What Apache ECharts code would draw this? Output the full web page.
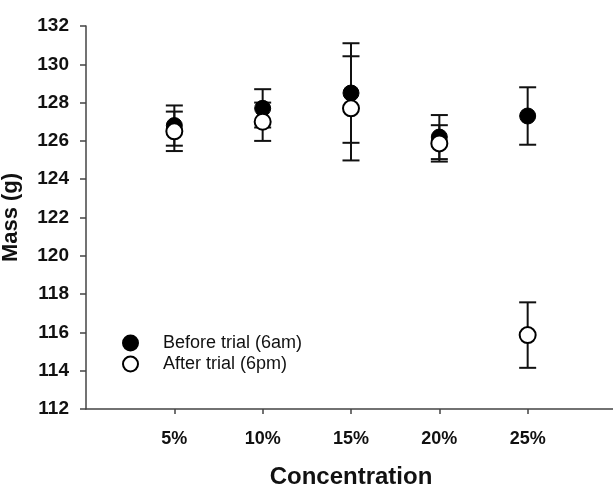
<!DOCTYPE html>
<html>
<head>
<meta charset="utf-8">
<script src="https://cdn.jsdelivr.net/npm/echarts@6/dist/echarts.min.js"></script>
<style>
  html, body { margin: 0; padding: 0; background: #fff; }
  #chart { width: 613px; height: 502px; }
</style>
</head>
<body>
<div id="chart"></div>
<script>
  // values
  const categories = ['5%', '10%', '15%', '20%', '25%'];
  const beforeMean = [126.8, 127.7, 128.5, 126.2, 127.3];
  const beforeErr = [1.05, 1.0, 2.6, 1.15, 1.5];
  const afterMean = [126.5, 127.0, 127.7, 125.87, 115.86];
  const afterErr = [1.03, 1.0, 2.72, 0.95, 1.71];
  const yTicks = [112, 114, 116, 118, 120, 122, 124, 126, 128, 130, 132];

  const font = '"Liberation Sans", Arial, sans-serif';
  const chart = echarts.init(document.getElementById('chart'));

  function errData(mean, err) {
    return mean.map((m, i) => [i + 1, m - err[i], m + err[i]]);
  }

  function errRender(params, api) {
    const x = api.value(0);
    const lo = api.coord([x, api.value(1)]);
    const hi = api.coord([x, api.value(2)]);
    const w = 8.5;
    const style = { stroke: '#111', lineWidth: 2 };
    return {
      type: 'group',
      children: [
        { type: 'line', shape: { x1: lo[0], y1: lo[1], x2: hi[0], y2: hi[1] }, style },
        { type: 'line', shape: { x1: lo[0] - w, y1: lo[1], x2: lo[0] + w, y2: lo[1] }, style },
        { type: 'line', shape: { x1: hi[0] - w, y1: hi[1], x2: hi[0] + w, y2: hi[1] }, style }
      ]
    };
  }

  chart.setOption({
    animation: false,
    backgroundColor: '#fff',
    grid: { left: 86, right: -3, top: 26, bottom: 93, outerBoundsMode: 'none', containLabel: false },
    legend: {
      orient: 'vertical',
      left: 122,
      top: 334,
      padding: 0,
      itemWidth: 15,
      itemHeight: 15,
      itemGap: 3,
      data: ['Before trial (6am)', 'After trial (6pm)'],
      textStyle: { fontFamily: font, fontSize: 18, color: '#111', padding: [0, 0, 0, 20] }
    },
    xAxis: {
      type: 'value',
      min: 0,
      max: 6,
      interval: 1,
      name: 'Concentration',
      nameLocation: 'middle',
      nameGap: 56,
      nameTextStyle: { fontFamily: font, fontSize: 24, fontWeight: 'bold', color: '#111' },
      splitLine: { show: false },
      axisLine: { lineStyle: { color: '#444', width: 1.5 } },
      axisTick: { customValues: [1, 2, 3, 4, 5], length: 5, lineStyle: { color: '#444', width: 1.5 } },
      axisLabel: {
        customValues: [1, 2, 3, 4, 5],
        margin: 21,
        fontFamily: font, fontSize: 18, fontWeight: 'bold', color: '#111',
        formatter: v => categories[v - 1] || ''
      }
    },
    yAxis: {
      type: 'value',
      min: yTicks[0],
      max: yTicks[yTicks.length - 1],
      interval: 2,
      name: 'Mass (g)',
      nameLocation: 'middle',
      nameGap: 64,
      nameTextStyle: { fontFamily: font, fontSize: 22, fontWeight: 'bold', color: '#111' },
      splitLine: { show: false },
      axisLine: { show: true, lineStyle: { color: '#444', width: 1.5 } },
      axisTick: { show: true, length: 6, lineStyle: { color: '#444', width: 1.5 } },
      axisLabel: { margin: 17, fontFamily: font, fontSize: 19, fontWeight: 'bold', color: '#111' }
    },
    series: [
      {
        name: 'Before trial (6am)',
        type: 'scatter',
        symbol: 'circle',
        symbolSize: 16,
        z: 3,
        itemStyle: { color: '#000', borderColor: '#000', borderWidth: 1, opacity: 1 },
        data: beforeMean.map((m, i) => [i + 1, m])
      },
      {
        name: 'After trial (6pm)',
        type: 'scatter',
        symbol: 'circle',
        symbolSize: 16,
        z: 4,
        itemStyle: { color: '#fff', borderColor: '#000', borderWidth: 2, opacity: 1 },
        data: afterMean.map((m, i) => [i + 1, m])
      },
      {
        type: 'custom',
        z: 2,
        silent: true,
        renderItem: errRender,
        encode: { x: 0, y: [1, 2] },
        data: errData(beforeMean, beforeErr)
      },
      {
        type: 'custom',
        z: 2,
        silent: true,
        renderItem: errRender,
        encode: { x: 0, y: [1, 2] },
        data: errData(afterMean, afterErr)
      }
    ]
  });
</script>
</body>
</html>
